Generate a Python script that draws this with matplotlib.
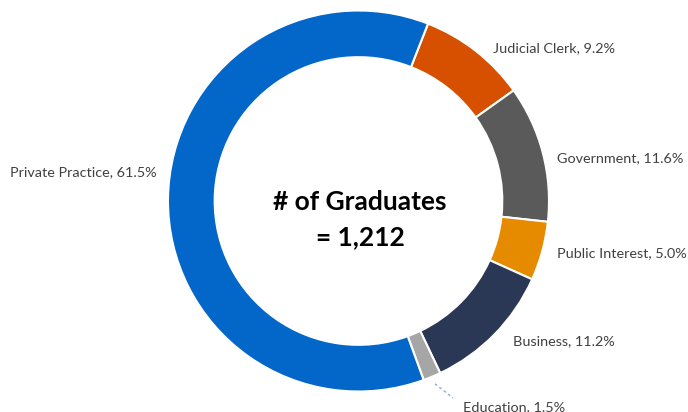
import numpy as np
import matplotlib
matplotlib.use("Agg")
import matplotlib.pyplot as plt

categories = ["Judicial Clerk", "Government", "Public Interest", "Business", "Education", "Private Practice"]
shares = [9.2, 11.6, 5.0, 11.2, 1.5, 61.5]
colors = ["#D75000", "#5A5A5A", "#E68A00", "#2B3855", "#A6A6A6", "#0366C9"]
total_grads = 1212

W, H = 688, 412
CX, CY, R = 358.5, 201, 190.5  # donut centre / radius in pixels


def px(x, y):
    # pixel (from top-left) -> data coords with the donut at the origin, radius 1
    return (x - CX) / R, (CY - y) / R


plt.rcParams["font.family"] = ["Lato", "DejaVu Sans"]
fig = plt.figure(figsize=(W / 100, H / 100), dpi=100)
ax = fig.add_axes([0, 0, 1, 1])

wedges, _ = ax.pie(shares, colors=colors, startangle=90 - 21.4, counterclock=False,
                   radius=1, wedgeprops=dict(width=0.245, edgecolor="white", linewidth=1.5))

# label anchors (pixels) and alignment
label_pos = [(493, 48, "left"), (557, 158, "left"), (557, 253, "left"),
             (513, 341, "left"), (463, 407, "left"), (157, 172, "right")]
for name, val, (x, y, ha) in zip(categories, shares, label_pos):
    ax.text(*px(x, y), f"{name}, {val:.1f}%", ha=ha, va="center",
            fontsize=10.4, color="#404040")

# leader line for the small Education slice
w = wedges[categories.index("Education")]
mid = np.deg2rad((w.theta1 + w.theta2) / 2)
ax.plot([1.04 * np.cos(mid), px(453, 398)[0]], [1.04 * np.sin(mid), px(453, 398)[1]],
        linestyle=(0, (2, 2)), color="#8FAADC", linewidth=1)

ax.text(*px(CX + 1, 202), "# of Graduates", ha="center", va="center",
        fontsize=19, fontweight="bold", color="black")
ax.text(*px(CX + 2, 237), f"= {total_grads:,}", ha="center", va="center",
        fontsize=19, fontweight="bold", color="black")

ax.set_xlim(px(0, 0)[0], px(W, 0)[0])
ax.set_ylim(px(0, H)[1], px(0, 0)[1])
ax.set_aspect("auto")
ax.axis("off")

fig.savefig("out.png", dpi=100)
